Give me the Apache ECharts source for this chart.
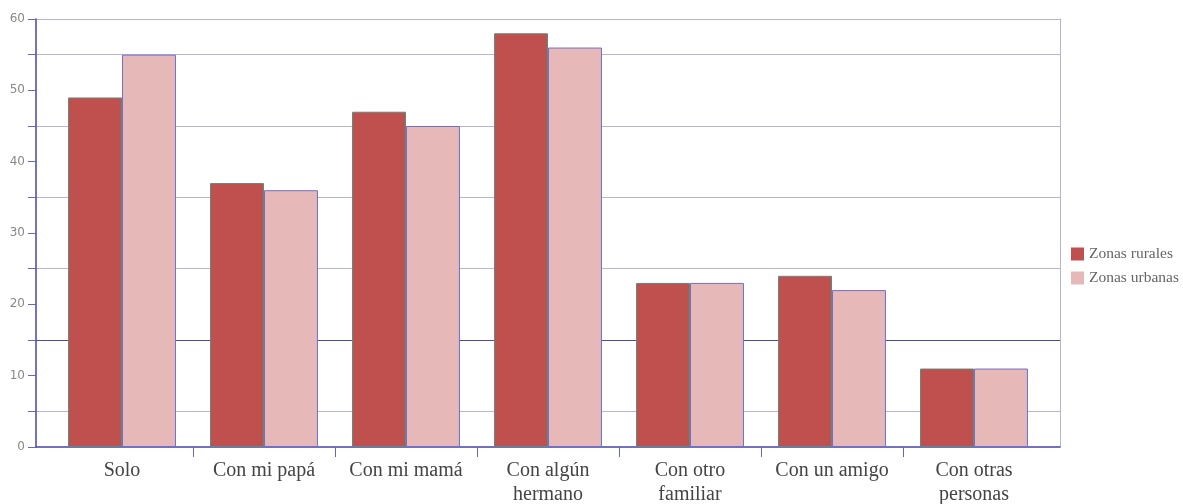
<!DOCTYPE html>
<html><head><meta charset="utf-8">
<script src="https://cdn.jsdelivr.net/npm/echarts@6/dist/echarts.min.js"></script>
<style>html,body{margin:0;padding:0;background:#fff}#c{width:1183px;height:504px}</style>
</head><body><div id="c"></div>
<script>
const categories = ['Solo','Con mi papá','Con mi mamá','Con algún\nhermano','Con otro\nfamiliar','Con un amigo','Con otras\npersonas'];
const rural = [49,37,47,58,23,24,11];
const urbana = [55,36,45,56,23,22,11];
const seriesNames = ['Zonas rurales','Zonas urbanas'];

const light = '#b4b4dc';
const dark = '#4848b0';
const none = 'rgba(0,0,0,0)';
// split lines at 0,5,...,60
const splitColors = [none, light, none, dark, none, light, none, light, none, light, none, light, light];
const boundaryTicks = categories.slice(1).map((c, i) => i + 1);

const chart = echarts.init(document.getElementById('c'));
chart.setOption({
  animation: false,
  grid: [
    {left: 36, right: 123, top: 19, bottom: 57, outerBoundsMode: 'none', containLabel: false},
    {left: 51, right: 138, top: 19, bottom: 57, outerBoundsMode: 'none', containLabel: false}
  ],
  legend: {
    orient: 'vertical', left: 1066, top: 241,
    itemWidth: 13, itemHeight: 13, itemGap: 8,
    icon: 'rect',
    itemStyle: {borderWidth: 0},
    textStyle: {fontFamily: 'Liberation Serif', fontSize: 15.5, color: '#666'},
    data: seriesNames
  },
  xAxis: [{
    gridIndex: 0, type: 'value', min: 0, max: 1, position: 'bottom',
    axisLine: {show: true, onZero: false, lineStyle: {color: '#4444aa', width: 1.5}},
    axisTick: {show: false}, axisLabel: {show: false}, splitLine: {show: false}
  }, {
    gridIndex: 1, type: 'category', data: categories, position: 'bottom',
    axisLine: {show: false},
    axisTick: {show: false},
    axisLabel: {fontFamily: 'Liberation Serif', fontSize: 20, color: '#444', margin: 12, lineHeight: 24, interval: 0}
  }, {
    gridIndex: 1, type: 'value', min: 0, max: categories.length, position: 'bottom',
    axisLine: {show: false, onZero: false},
    axisTick: {show: true, length: 10, lineStyle: {color: '#6666bb'}, customValues: boundaryTicks},
    axisLabel: {show: false}, splitLine: {show: false}
  }],
  yAxis: [{
    gridIndex: 0, type: 'value', min: 0, max: 60, interval: 5,
    axisLine: {show: true, lineStyle: {color: '#4444aa', width: 1.5}},
    axisTick: {show: true, length: 8, lineStyle: {color: '#6666bb'}},
    axisLabel: {fontFamily: 'DejaVu Sans', fontSize: 12, color: '#888', margin: 11,
      formatter: v => (v % 10 === 0 ? String(v) : '')},
    splitLine: {show: true, lineStyle: {color: splitColors, width: 1}}
  }, {
    gridIndex: 0, type: 'value', min: 0, max: 60, interval: 5, position: 'right',
    axisLine: {show: true, lineStyle: {color: light, width: 1}},
    axisTick: {show: false}, axisLabel: {show: false}, splitLine: {show: false}
  }, {
    gridIndex: 1, type: 'value', min: 0, max: 60, interval: 5, show: false
  }],
  series: [{
    name: seriesNames[0], type: 'bar', data: rural, xAxisIndex: 1, yAxisIndex: 2,
    barGap: '0%', barCategoryGap: '24%',
    itemStyle: {color: '#c0504d', borderColor: '#5f8a80', borderWidth: 1}
  }, {
    name: seriesNames[1], type: 'bar', data: urbana, xAxisIndex: 1, yAxisIndex: 2,
    itemStyle: {color: '#e6b8b7', borderColor: '#7070cc', borderWidth: 1}
  }]
});
</script></body></html>
